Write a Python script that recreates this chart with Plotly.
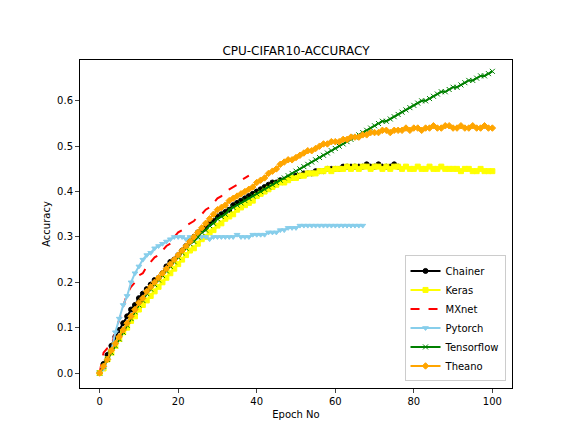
import plotly.graph_objects as go

chainer = [0,0.02,0.04,0.06,0.08,0.095,0.11,0.125,0.14,0.15,0.165,0.175,0.185,0.195,0.205,0.21,0.22,0.235,0.245,0.25,
 0.26,0.27,0.28,0.29,0.3,0.31,0.315,0.32,0.33,0.335,0.345,0.35,0.355,0.36,0.37,0.375,0.38,0.385,0.39,0.395,
 0.4,0.405,0.41,0.415,0.42,0.42,0.425,0.425,0.43,0.43,0.435,0.435,0.44,0.44,0.44,0.445,0.445,0.445,0.45,0.45,
 0.45,0.45,0.455,0.455,0.455,0.455,0.455,0.455,0.46,0.455,0.455,0.46,0.455,0.455,0.455,0.46,0.455]
keras = [0,0.01,0.03,0.045,0.06,0.075,0.09,0.1,0.115,0.125,0.14,0.15,0.16,0.17,0.18,0.19,0.2,0.21,0.22,0.23,
 0.24,0.25,0.26,0.27,0.275,0.285,0.295,0.3,0.31,0.315,0.325,0.33,0.34,0.345,0.35,0.36,0.365,0.37,0.375,0.38,
 0.39,0.395,0.4,0.405,0.41,0.415,0.42,0.42,0.425,0.43,0.43,0.435,0.435,0.44,0.44,0.44,0.445,0.445,0.45,0.445,
 0.45,0.45,0.45,0.455,0.45,0.455,0.45,0.455,0.455,0.45,0.455,0.455,0.45,0.455,0.45,0.455,0.455,0.45,0.455,0.45,
 0.45,0.455,0.45,0.45,0.455,0.45,0.45,0.455,0.45,0.45,0.45,0.45,0.445,0.45,0.45,0.445,0.445,0.45,0.445,0.445,0.445]
mxnet = [0,0.045,0.055,0.06,0.09,0.12,0.15,0.175,0.19,0.2,0.215,0.22,0.235,0.245,0.255,0.26,0.27,0.28,0.285,0.3,
 0.31,0.315,0.325,0.33,0.335,0.345,0.35,0.36,0.365,0.375,0.385,0.39,0.4,0.405,0.41,0.415,0.425,0.43,0.435]
pytorch = [0,0.01,0.03,0.05,0.09,0.12,0.15,0.17,0.2,0.22,0.235,0.25,0.26,0.265,0.275,0.28,0.285,0.29,0.295,0.3,
 0.3,0.3,0.295,0.3,0.3,0.3,0.3,0.3,0.295,0.3,0.3,0.3,0.3,0.3,0.3,0.305,0.3,0.3,0.3,0.305,
 0.305,0.305,0.305,0.31,0.31,0.31,0.315,0.315,0.32,0.32,0.32,0.325,0.325,0.325,0.325,0.325,0.325,0.325,0.325,0.325,
 0.325,0.325,0.325,0.325,0.325,0.325,0.325,0.325]
tensorflow = [0,0.015,0.03,0.045,0.06,0.075,0.09,0.105,0.12,0.135,0.15,0.16,0.175,0.185,0.195,0.205,0.215,0.225,0.235,0.245,
 0.255,0.265,0.275,0.285,0.29,0.3,0.31,0.315,0.325,0.33,0.34,0.345,0.35,0.36,0.365,0.37,0.375,0.38,0.385,0.39,
 0.395,0.4,0.405,0.41,0.415,0.42,0.425,0.43,0.435,0.44,0.445,0.45,0.455,0.46,0.465,0.47,0.475,0.48,0.485,0.49,
 0.495,0.5,0.505,0.51,0.515,0.52,0.525,0.53,0.535,0.54,0.545,0.55,0.555,0.555,0.56,0.565,0.57,0.575,0.58,0.585,
 0.59,0.595,0.6,0.6,0.605,0.61,0.615,0.62,0.62,0.625,0.63,0.63,0.635,0.64,0.645,0.645,0.65,0.655,0.655,0.66,0.665]
theano = [0,0.015,0.03,0.05,0.065,0.08,0.095,0.11,0.125,0.14,0.155,0.165,0.18,0.19,0.2,0.21,0.22,0.23,0.24,0.25,
 0.26,0.27,0.28,0.29,0.3,0.31,0.32,0.33,0.34,0.35,0.36,0.365,0.37,0.38,0.385,0.39,0.395,0.4,0.405,0.41,
 0.42,0.425,0.43,0.44,0.445,0.45,0.46,0.465,0.47,0.47,0.475,0.48,0.485,0.49,0.49,0.495,0.5,0.505,0.505,0.51,
 0.51,0.51,0.515,0.515,0.52,0.52,0.52,0.525,0.525,0.53,0.53,0.53,0.535,0.535,0.53,0.535,0.535,0.535,0.54,0.535,
 0.54,0.54,0.535,0.54,0.54,0.545,0.54,0.54,0.545,0.545,0.54,0.54,0.545,0.54,0.54,0.545,0.54,0.54,0.545,0.54,0.54]

series = [
    ("Chainer", chainer, "black", "circle", "solid"),
    ("Keras", keras, "yellow", "square", "solid"),
    ("MXnet", mxnet, "red", None, "dash"),
    ("Pytorch", pytorch, "skyblue", "triangle-down", "solid"),
    ("Tensorflow", tensorflow, "green", "x-thin", "solid"),
    ("Theano", theano, "orange", "diamond", "solid"),
]

fig = go.Figure()
for name, ys, col, sym, dash in series:
    fig.add_trace(go.Scatter(
        x=list(range(len(ys))), y=ys, name=name,
        mode="lines" if sym is None else "lines+markers",
        line=dict(color=col, width=2, dash=dash),
        marker=dict(symbol=sym or "circle", size=5, color=col, line=dict(color=col, width=1))))

fig.update_layout(
    width=576, height=432, paper_bgcolor="white", plot_bgcolor="white",
    margin=dict(l=72, r=72, t=52, b=52),
    font=dict(family="DejaVu Sans", size=10, color="black"),
    title=dict(text="CPU-CIFAR10-ACCURACY", x=0.5, xanchor="center", y=0.9, yanchor="middle", font=dict(size=12)),
    showlegend=True,
    legend=dict(x=0.985, y=0.02, xanchor="right", yanchor="bottom", bordercolor="#cccccc", borderwidth=1,
                bgcolor="rgba(255,255,255,0.8)", font=dict(size=10)),
)
fig.update_xaxes(range=[-5, 105], tickvals=[0,20,40,60,80,100], showgrid=False, zeroline=False, automargin=False,
                 showline=True, mirror=True, linecolor="black", ticks="outside", ticklen=4,
                 title=dict(text="Epoch No", standoff=4, font=dict(size=10)))
fig.update_yaxes(range=[-0.033, 0.69], tickvals=[0,0.1,0.2,0.3,0.4,0.5,0.6], tickformat=".1f", automargin=False,
                 showgrid=False, zeroline=False, showline=True, mirror=True, linecolor="black",
                 ticks="outside", ticklen=4, title=dict(text="Accuracy", standoff=4, font=dict(size=10)))
fig.write_html("out.html")
